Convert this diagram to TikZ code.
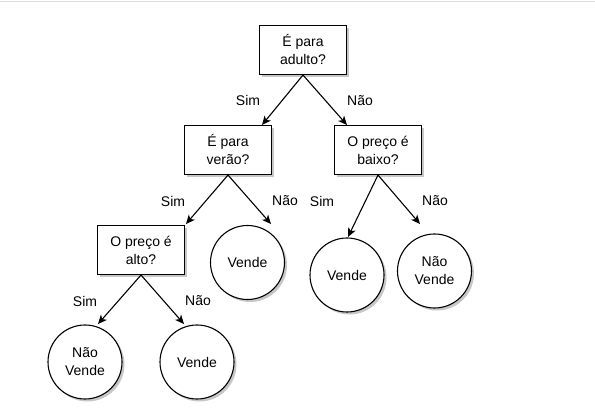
\documentclass[tikz,border=0pt]{standalone}
\usepackage{fontspec}
\setmainfont{Liberation Sans}
\usetikzlibrary{arrows.meta,shadows}
\begin{document}
\begin{tikzpicture}[x=1pt,y=-1pt,
  every node/.style={font=\fontsize{14}{18}\selectfont},
  sh/.style={drop shadow={shadow xshift=2.5pt,shadow yshift=-2.5pt,opacity=0.22,fill=black}},
  decision/.style={draw,line width=1.1pt,fill=white,minimum width=87pt,minimum height=49pt,align=center,inner sep=0pt,sh},
  leaf/.style={draw,circle,line width=1.1pt,fill=white,minimum size=74pt,align=center,inner sep=0pt,sh},
  edge/.style={-{Stealth[length=9pt,width=8pt,inset=2.5pt]},line width=1.1pt},
  lbl/.style={inner sep=0pt}
]
\useasboundingbox (0,0) rectangle (595,419);
\draw[line width=1.2pt,color=black!14] (0,1.5) -- (595,1.5);

\node[decision] (root) at (303,50) {É para\\adulto?};
\node[decision] (verao) at (228,150) {É para\\verão?};
\node[decision] (baixo) at (378,150) {O preço é\\baixo?};
\node[decision] (alto) at (141,250) {O preço é\\alto?};

\node[leaf] (v1) at (247.5,262.5) {Vende};
\node[leaf] (nv1) at (85,362) {Não\\Vende};
\node[leaf] (v2) at (197,362) {Vende};
\node[leaf] (v3) at (347,275) {Vende};
\node[leaf] (nv2) at (434.5,271) {Não\\Vende};

\coordinate (t1) at (262,125);
\coordinate (t2) at (347,125);
\coordinate (t3) at (186,224);
\coordinate (t4) at (271,224);
\coordinate (t5) at (98,324);
\coordinate (t6) at (184,324);
\coordinate (t7) at (348,237);
\coordinate (t8) at (420,224);

\draw[edge] (root.south) -- (t1);
\draw[edge] (root.south) -- (t2);
\draw[edge] (verao.south) -- (t3);
\draw[edge] (verao.south) -- (t4);
\draw[edge] (alto.south) -- (t5);
\draw[edge] (alto.south) -- (t6);
\draw[edge] (baixo.south) -- (t7);
\draw[edge] (baixo.south) -- (t8);

\node[lbl] (l1) at (248,101) {Sim};
\node[lbl] (l2) at (360,101) {Não};
\node[lbl] (l3) at (173,201) {Sim};
\node[lbl] (l4) at (285,201) {Não};
\node[lbl] (l5) at (322,201) {Sim};
\node[lbl] (l6) at (435,201) {Não};
\node[lbl] (l7) at (85,301) {Sim};
\node[lbl] (l8) at (198,301) {Não};
\end{tikzpicture}
\end{document}
